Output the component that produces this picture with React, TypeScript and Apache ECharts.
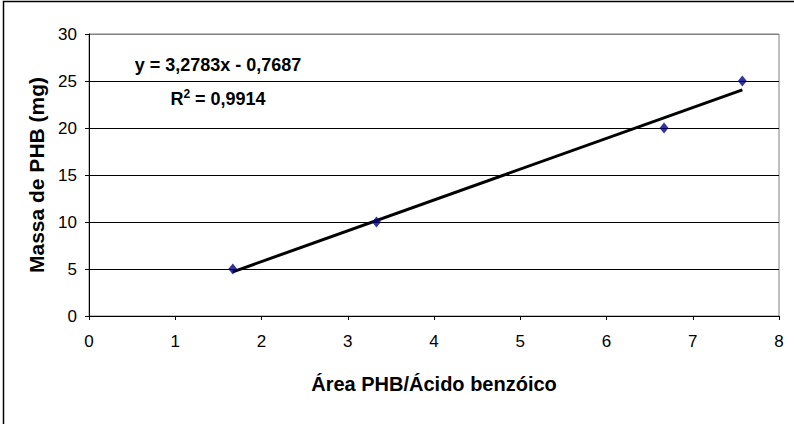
import { useEffect, useRef } from 'react';
import * as echarts from 'echarts';

// measured points (area ratio vs. PHB mass)
const areaRatio = [1.667, 3.333, 6.667, 7.575];
const massMg = [5, 10, 20, 25];

// linear fit shown on the chart
const slope = 3.2783;
const intercept = -0.7687;
const equationText = 'y = 3,2783x - 0,7687';
const r2Text = '0,9914';

const xTicks = [0, 1, 2, 3, 4, 5, 6, 7, 8];
const yTicks = [0, 5, 10, 15, 20, 25, 30];

const FONT = "'Liberation Sans', Arial, sans-serif";

const App: React.FC = () => {
  const chartRef = useRef<HTMLDivElement>(null);

  useEffect(() => {
    if (!chartRef.current) return;
    const chart = echarts.init(chartRef.current, null, { renderer: 'svg' });

    const xMin = Math.min(...areaRatio);
    const xMax = Math.max(...areaRatio);
    const trend = [xMin, xMax].map((x) => [x, slope * x + intercept]);

    // top gridline is the grey frame, the rest are black
    const splitColors = yTicks.map((_, i) => (i === yTicks.length - 1 ? '#808080' : '#000'));

    chart.setOption({
      animation: false,
      grid: {
        left: 89,
        right: 15,
        top: 34,
        bottom: 108,
        containLabel: false,
        show: true,
        borderColor: '#808080',
        borderWidth: 1,
        backgroundColor: 'transparent'
      },
      xAxis: {
        type: 'value',
        min: xTicks[0],
        max: xTicks[xTicks.length - 1],
        interval: 1,
        name: 'Área PHB/Ácido benzóico',
        nameLocation: 'middle',
        nameGap: 58,
        nameTextStyle: { fontFamily: FONT, fontWeight: 'bold', fontSize: 20, color: '#000' },
        axisLine: { show: true, lineStyle: { color: '#000', width: 1 } },
        axisTick: { show: true, length: 4, lineStyle: { color: '#000' } },
        axisLabel: { fontFamily: FONT, fontSize: 17, color: '#000', margin: 17 },
        splitLine: { show: false }
      },
      yAxis: {
        type: 'value',
        min: yTicks[0],
        max: yTicks[yTicks.length - 1],
        interval: 5,
        name: 'Massa de PHB (mg)',
        nameLocation: 'middle',
        nameGap: 42,
        nameTextStyle: { fontFamily: FONT, fontWeight: 'bold', fontSize: 21, color: '#000' },
        axisLine: { show: true, lineStyle: { color: '#000', width: 1 } },
        axisTick: { show: true, length: 4, lineStyle: { color: '#000' } },
        axisLabel: { fontFamily: FONT, fontSize: 17, color: '#000', margin: 12 },
        splitLine: { show: true, lineStyle: { color: splitColors, width: 1 } }
      },
      series: [
        {
          type: 'line',
          data: trend,
          symbol: 'none',
          lineStyle: { color: '#000', width: 3 },
          silent: true,
          z: 2
        },
        {
          type: 'scatter',
          data: areaRatio.map((x, i) => [x, massMg[i]]),
          symbol: 'diamond',
          symbolSize: [9, 11],
          itemStyle: { color: '#000080' },
          z: 3
        }
      ],
      graphic: [
        {
          type: 'rect',
          shape: { x: 3.5, y: 1.5, width: 800, height: 430 },
          style: { fill: 'none', stroke: '#000', lineWidth: 1.5 },
          silent: true
        },
        {
          type: 'text',
          x: 218,
          y: 65,
          style: {
            text: equationText,
            font: `bold 18px ${FONT}`,
            fill: '#000',
            align: 'center',
            verticalAlign: 'middle'
          }
        },
        {
          type: 'text',
          x: 218,
          y: 98,
          style: {
            text: `{b|R}{s|2}{b| = ${r2Text}}`,
            align: 'center',
            verticalAlign: 'middle',
            rich: {
              b: { font: `bold 18px ${FONT}`, fill: '#000', verticalAlign: 'bottom', lineHeight: 20 },
              s: { font: `bold 12px ${FONT}`, fill: '#000', verticalAlign: 'top', lineHeight: 20 }
            }
          }
        }
      ]
    });

    return () => {
      chart.dispose();
    };
  }, []);

  return (
    <div
      ref={chartRef}
      style={{ position: 'absolute', left: 0, top: 0, width: '794px', height: '424px', background: '#fff' }}
    />
  );
};

export default App;
